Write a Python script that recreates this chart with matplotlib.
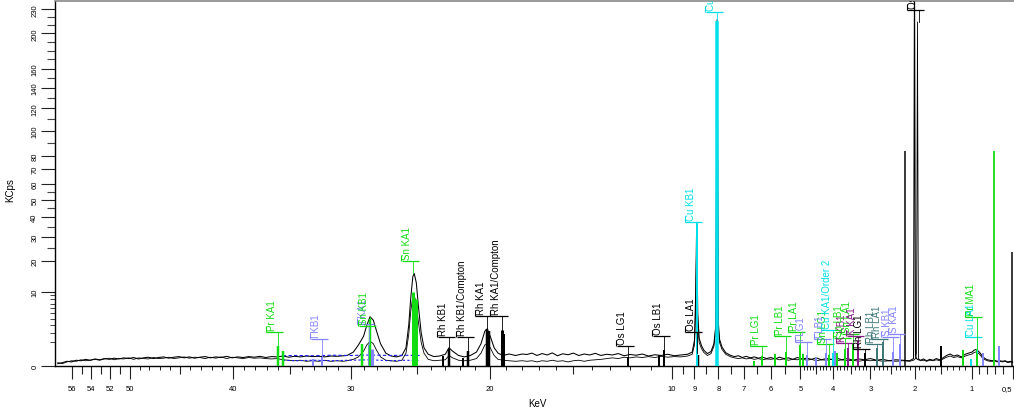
import numpy as np
import matplotlib
matplotlib.use('Agg')
import matplotlib.pyplot as plt
from matplotlib.transforms import offset_copy

plt.rcParams['font.family'] = ['Liberation Sans', 'DejaVu Sans']

# ---------------- data: spectra (keV, KCps) ----------------
energy_a = [57.6, 57.1, 56.6, 56.1, 55.6, 55.1, 54.6, 54.1, 53.6, 53.1,
            52.6, 52.1, 51.6, 51.1, 50.6, 50.1, 49.6, 49.1, 48.6, 48.1,
            47.6, 47.1, 46.6, 46.1, 45.6, 45.1, 44.6, 44.1, 43.6, 43.1,
            42.6, 42.1, 41.6, 41.1, 40.6, 40.1, 39.6, 39.1, 38.6, 38.1,
            37.6, 37.1, 36.6, 36.1, 35.6, 35.1, 34.6, 34.1, 33.6, 33.1,
            32.6, 32.1, 31.6, 31.1, 30.6]
spec1_a = [0.01, 0.02, 0.04, 0.03, 0.06, 0.05, 0.08, 0.06, 0.09, 0.07,
           0.10, 0.08, 0.11, 0.09, 0.12, 0.10, 0.13, 0.09, 0.12, 0.14,
           0.10, 0.13, 0.15, 0.11, 0.14, 0.16, 0.12, 0.15, 0.11, 0.14,
           0.16, 0.12, 0.15, 0.13, 0.17, 0.12, 0.15, 0.13, 0.16, 0.14,
           0.17, 0.13, 0.16, 0.15, 0.18, 0.14, 0.17, 0.15, 0.18, 0.16,
           0.17, 0.15, 0.18, 0.17, 0.19]
spec2_a = [0.02, 0.01, 0.03, 0.05, 0.04, 0.07, 0.05, 0.06, 0.08, 0.06,
           0.09, 0.11, 0.07, 0.10, 0.09, 0.12, 0.08, 0.12, 0.10, 0.09,
           0.13, 0.10, 0.11, 0.14, 0.10, 0.12, 0.15, 0.11, 0.14, 0.13,
           0.10, 0.14, 0.11, 0.15, 0.10, 0.14, 0.12, 0.10, 0.13, 0.11,
           0.12, 0.10, 0.09, 0.10, 0.07, 0.06, 0.05, 0.06, 0.04, 0.05,
           0.04, 0.06, 0.04, 0.05, 0.04]

energy_b = [30.3, 29.8, 29.4, 29.0, 28.75, 28.5, 28.25, 28.0, 27.7,
            27.3, 26.9, 26.5, 26.1, 25.8, 25.6, 25.45, 25.3, 25.2, 25.05,
            24.9, 24.7, 24.5, 24.2, 23.8, 23.4, 23.0, 22.75, 22.5, 22.1,
            21.7, 21.3, 20.9, 20.6, 20.35, 20.2, 20.0, 19.75, 19.5, 19.2,
            18.8, 18.4, 18.0]
spec1_b = [0.20, 0.35, 0.8, 1.6, 3.0, 4.4, 3.8, 2.2, 0.9,
           0.30, 0.18, 0.15, 0.20, 0.6, 3.0, 8.5, 14.5, 15.5, 12.5,
           6.5, 2.0, 0.6, 0.25, 0.16, 0.18, 0.25, 0.6, 0.4, 0.20,
           0.15, 0.20, 0.35, 0.9, 2.2, 2.5, 1.6, 0.6, 0.30, 0.20,
           0.26, 0.20, 0.26]
spec2_b = [0.05, 0.08, 0.15, 0.4, 0.8, 1.1, 0.9, 0.45, 0.15,
           0.06, 0.05, 0.04, 0.06, 0.3, 1.8, 5.5, 8.8, 9.0, 7.0,
           3.5, 1.0, 0.3, 0.08, 0.05, 0.06, 0.07, 0.20, 0.12, 0.06,
           0.05, 0.06, 0.10, 0.30, 0.8, 0.9, 0.6, 0.20, 0.08, 0.06,
           0.05, 0.04, 0.05]

energy_c = [17.7, 17.4, 17.1, 16.8, 16.5, 16.2, 15.9, 15.6, 15.3, 15.0,
            14.7, 14.4, 14.1, 13.8, 13.5, 13.2, 12.9, 12.6, 12.3, 12.0,
            11.7, 11.4, 11.1, 10.8, 10.5, 10.2, 9.9, 9.6, 9.3]
spec1_c = [0.24, 0.30, 0.20, 0.28, 0.22, 0.31, 0.19, 0.27, 0.23, 0.30,
           0.20, 0.26, 0.22, 0.29, 0.20, 0.25, 0.22, 0.28, 0.19, 0.24,
           0.21, 0.26, 0.18, 0.23, 0.20, 0.25, 0.19, 0.22, 0.25]
spec2_c = [0.04, 0.05, 0.03, 0.05, 0.04, 0.06, 0.04, 0.05, 0.03, 0.05,
           0.06, 0.04, 0.06, 0.07, 0.08, 0.10, 0.12, 0.10, 0.14, 0.12,
           0.15, 0.13, 0.16, 0.13, 0.17, 0.14, 0.16, 0.15, 0.18]

energy_cu = [9.1, 9.0, 8.95, 8.905, 8.86, 8.8, 8.7, 8.6, 8.45, 8.3, 8.18, 8.1, 8.048,
             8.0, 7.95, 7.85, 7.7]
spec1_cu = [0.35, 1.2, 9.0, 37.0, 5.0, 1.4, 0.75, 0.45, 0.28, 0.38, 0.9, 3.0, 217.0,
            3.5, 1.3, 0.65, 0.32]
spec2_cu = [0.25, 0.8, 6.0, 30.0, 3.5, 1.0, 0.55, 0.33, 0.20, 0.28, 0.7, 2.5, 200.0,
            2.8, 1.0, 0.5, 0.25]

energy_d = [7.5, 7.35, 7.2, 7.05, 6.9, 6.75, 6.6, 6.45, 6.3, 6.15,
            6.0, 5.85, 5.7, 5.55, 5.4, 5.25, 5.1, 4.95, 4.8, 4.65,
            4.5, 4.35, 4.2, 4.05, 3.9, 3.75, 3.6, 3.45, 3.3, 3.15,
            3.0, 2.85, 2.7, 2.55, 2.4, 2.25]
spec1_d = [0.20, 0.16, 0.19, 0.13, 0.17, 0.12, 0.15, 0.11, 0.14, 0.10,
           0.13, 0.09, 0.14, 0.10, 0.12, 0.08, 0.13, 0.09, 0.11, 0.08,
           0.12, 0.07, 0.10, 0.08, 0.11, 0.07, 0.10, 0.06, 0.09, 0.07,
           0.10, 0.06, 0.08, 0.05, 0.07, 0.06]
spec2_d = [0.15, 0.12, 0.10, 0.12, 0.09, 0.11, 0.08, 0.10, 0.07, 0.09,
           0.08, 0.10, 0.07, 0.09, 0.06, 0.08, 0.07, 0.09, 0.06, 0.08,
           0.05, 0.07, 0.06, 0.08, 0.05, 0.07, 0.05, 0.06, 0.04, 0.06,
           0.05, 0.06, 0.04, 0.05, 0.04, 0.05]

energy_m = [2.1, 2.02, 2.0, 1.98, 1.96, 1.94, 1.92]
spec1_m = [0.05, 0.10, 300.0, 0.20, 0.10, 0.08, 0.07]
spec2_m = [0.04, 0.06, 0.08, 0.10, 0.30, 214.0, 0.10]

energy_e = [1.88, 1.82, 1.76, 1.70, 1.64, 1.58, 1.52, 1.46, 1.40, 1.34,
            1.28, 1.22, 1.16, 1.10, 1.05, 1.00, 0.97, 0.94, 0.91, 0.88,
            0.85, 0.82, 0.79, 0.76, 0.73, 0.70, 0.67, 0.64, 0.61, 0.58,
            0.55, 0.52, 0.50]
spec1_e = [0.06, 0.09, 0.05, 0.08, 0.06, 0.10, 0.07, 0.12, 0.20, 0.26,
           0.18, 0.22, 0.15, 0.25, 0.30, 0.35, 0.45, 0.50, 0.40, 0.28,
           0.15, 0.10, 0.07, 0.06, 0.05, 0.06, 0.04, 0.05, 0.04, 0.05,
           0.03, 0.04, 0.03]
spec2_e = [0.05, 0.06, 0.04, 0.06, 0.05, 0.07, 0.05, 0.09, 0.14, 0.18,
           0.13, 0.16, 0.12, 0.18, 0.22, 0.26, 0.33, 0.36, 0.30, 0.20,
           0.10, 0.07, 0.05, 0.04, 0.04, 0.05, 0.03, 0.04, 0.03, 0.04,
           0.02, 0.03, 0.02]

fit_energy = [35.6, 34.5, 33.0, 31.5, 30.0, 28.5, 27.0, 25.8, 24.8]
fit_high = [0.19, 0.20, 0.19, 0.21, 0.20, 0.22, 0.20, 0.21, 0.20]
fit_low = [0.06, 0.05, 0.06, 0.05, 0.06, 0.07, 0.05, 0.06, 0.05]

# element line markers
marker_energy = [36.03, 35.55, 33.04, 32.29, 29.11, 28.61, 28.49, 28.32, 25.27, 25.04,
                 23.17, 22.72, 21.8, 21.45, 20.22, 20.07, 19.24, 19.1, 12.10, 10.60, 10.36,
                 8.84, 8.905, 8.048, 6.60, 6.32, 5.85, 5.49, 5.03, 4.93, 4.80, 4.50, 4.22,
                 4.13, 4.02, 3.94, 3.90, 3.66, 3.59, 3.44, 3.31, 3.14, 2.83, 2.70, 2.46, 2.31,
                 2.20, 1.50, 1.13, 1.02, 0.93, 0.929, 0.85, 0.708, 0.65, 0.51]
marker_height = [0.75, 0.42, 0.08, 0.15, 0.9, 0.9, 4.0, 0.55, 9.9, 8.1,
                 0.18, 0.55, 0.12, 0.42, 2.5, 2.2, 2.4, 1.8, 0.15, 0.2, 0.46,
                 0.2, 37.0, 215.0, 0.05, 0.18, 0.25, 0.35, 0.8, 0.25, 0.2, 0.15, 0.3,
                 0.2, 0.3, 0.4, 0.3, 0.5, 0.6, 0.9, 1.1, 0.3, 0.6, 1.0, 0.35, 0.9,
                 83.7, 0.72, 0.46, 0.08, 0.25, 0.55, 0.3, 83.7, 0.72, 23.5]
marker_color = ['g', 'g', 'p', 'p', 'g', 'p', 'g', 'p', 'g', 'g',
                'k', 'k', 'k', 'k', 'k', 'k', 'k', 'k', 'k', 'k', 'k',
                'k', 'c', 'c', 'g', 'g', 'g', 'g', 'g', 'g', 'p', 'p', 'p',
                'g', 'c', 'p', 'g', 'g', 'm', 'g', 'm', 'k', 't', 't', 'p', 'p',
                'k', 'k', 'g', 'c', 'c', 'g', 'p', 'g', 'p', 'k']
marker_width = [2.5, 2.5, 2, 2, 2.5, 3, 2.5, 3, 3, 3,
                2, 2.5, 2, 2.5, 2.5, 2.5, 3, 2, 2, 2, 2,
                2.5, 2, 3.5, 2, 2, 2, 2, 2, 2, 2, 2, 2,
                2, 2, 2, 2, 2, 2, 2, 2, 2, 2, 2, 2, 2,
                1.5, 2, 2, 2, 2, 2, 2, 1.8, 2, 1.5]

label_text = ["Pr KA1", "I KB1", "I KA1", "Sn KB1", "Sn KA1", "Rh KB1", "Rh KB1/Compton",
              "Rh KA1", "Rh KA1/Compton", "Os LG1", "Os LB1", "Os LA1", "Cu KB1", "Cu KA1",
              "Pr LG1", "Pr LB1", "Pr LA1", "I LG1", "Sn LG1", "I LB1", "Cu KA1/Order 2",
              "K KB1", "Sn LB1", "Sn LA1", "K KA1", "Rh LG1", "Rh LB1", "Rh LA1", "S KB1",
              "S KA1", "Os MA1", "Cu LA1", "Pr MA1"]
label_energy = [36.03, 32.29, 28.61, 28.49, 25.27, 22.72, 21.45, 20.22, 19.24, 12.10, 10.36,
                8.91, 8.905, 8.048, 6.32, 5.49, 5.03, 4.80, 4.13, 4.22, 4.02, 3.59, 3.66, 3.44,
                3.31, 3.14, 2.83, 2.70, 2.46, 2.31, 1.914, 0.93, 0.929]
label_bar = [2.09, 1.32, 3.2, 2.9, 20.0, 1.52, 1.52, 4.53, 4.53, 0.72, 1.63, 2.09, 37.5, 227.0,
             0.72, 1.63, 2.09, 1.0, 0.9, 1.3, 2.35, 0.95, 1.4, 1.9, 1.6, 0.55, 0.9, 1.3, 1.5,
             1.9, 229.0, 1.52, 4.35]
label_peak = [0.75, 0.15, 0.9, 4.4, 15.5, 0.6, 0.42, 2.5, 2.4, 0.15, 0.46, 0.3, 37.0, 217.0,
              0.18, 0.35, 0.8, 0.2, 0.2, 0.3, 0.3, 0.6, 0.5, 0.9, 1.1, 0.3, 0.6, 1.0, 0.35,
              0.9, 214.0, 0.3, 0.5]
label_color = ['g', 'p', 'p', 'g', 'g', 'k', 'k', 'k', 'k', 'k', 'k', 'k', 'c', 'c',
               'g', 'g', 'g', 'p', 'g', 'p', 'c', 'm', 'g', 'g', 'm', 'k', 't', 't', 'p',
               'p', 'k', 'c', 'g']

x_major = [56, 54, 52, 50, 40, 30, 20, 10, 9, 8, 7, 6, 5, 4, 3, 2, 1, 0.5]
x_major_labels = ['56', '54', '52', '50', '40', '30', '20', '10', '9', '8', '7', '6', '5',
                  '4', '3', '2', '1', '0,5']
x_medium = [55, 53, 51, 45, 35, 25, 15, 9.5, 8.5, 7.5, 6.5, 5.5, 4.5, 3.5, 2.5, 1.5,
            0.9, 0.8, 0.7, 0.6]
x_small = ([e for e in range(11, 50) if e not in (15, 20, 25, 30, 35, 40, 45)] +
           [round(a + b / 10, 1) for a in (1, 2, 3, 4) for b in range(1, 10) if b != 5])
y_major = [0, 10, 20, 30, 40, 50, 60, 70, 80, 100, 120, 140, 160, 200, 230]
y_medium = [25, 35, 45, 55, 90, 110, 130, 150, 170, 180, 190, 210, 220]
y_small = [1, 2, 3, 4, 5, 6, 7, 8, 9]

palette = {'g': '#12dc12', 'p': '#8585ff', 'c': '#00e0ea', 'k': '#000000',
           'm': '#8a1a8a', 't': '#3e7878'}

energy = energy_a + energy_b + energy_c + energy_cu + energy_d + energy_m + energy_e
spectrum_1 = spec1_a + spec1_b + spec1_c + spec1_cu + spec1_d + spec1_m + spec1_e
spectrum_2 = spec2_a + spec2_b + spec2_c + spec2_cu + spec2_d + spec2_m + spec2_e

# ---------------- figure ----------------
W, H = 1014, 414
fig = plt.figure(figsize=(W / 100, H / 100), dpi=100)
rect = [55 / W, 47 / H, (W - 55) / W, 365 / H]


def fwd(v):
    return np.sqrt(np.clip(v, 0, None))


def inv(v):
    return np.square(v)


ax3 = fig.add_axes(rect, frameon=False)
ax = fig.add_axes(rect)
ax.patch.set_alpha(0)
for a in (ax, ax3):
    a.set_xscale('function', functions=(fwd, inv))
    a.set_yscale('function', functions=(fwd, inv))
    a.set_xlim(57.9, 0.486)
    a.set_ylim(0, 241)

# spectra
ax.plot(energy, spectrum_2, color='black', lw=0.6, zorder=2)
ax.plot(energy, spectrum_1, color='black', lw=0.75, zorder=2)
ax.plot(fit_energy, fit_high, color='#1a1aff', lw=0.8, dashes=(3, 2), zorder=2)
ax.plot(fit_energy, fit_low, color='#1a1aff', lw=0.8, dashes=(2, 2), zorder=2)

# marker lines
ax.vlines(marker_energy, 0, marker_height, colors=[palette[c] for c in marker_color],
          linewidths=[w * 0.72 for w in marker_width], zorder=3)

# labels
for txt, e, bar, pk, c in zip(label_text, label_energy, label_bar, label_peak, label_color):
    col = palette[c]
    ax.plot([e, e], [pk, bar], color=col, lw=0.6, zorder=4)
    tb = offset_copy(ax.transData, fig=fig, x=-3.5, y=0, units='dots')
    ax.plot([e], [bar], marker='_', ms=17 * 0.72, mew=0.9, color=col, transform=tb, zorder=4)
    tt = offset_copy(ax.transData, fig=fig, x=-12, y=3, units='dots')
    ax.plot([e], [bar], marker='|', ms=6 * 0.72, mew=0.8, color=col, transform=tt, zorder=4)
    tx = offset_copy(ax.transData, fig=fig, x=-6, y=2, units='dots')
    ax.text(e, bar, txt, rotation=90, ha='center', va='bottom', fontsize=7, color=col,
            transform=tx, clip_on=True, zorder=5)

# ticks
ax.set_xticks(x_major)
ax.set_xticklabels(x_major_labels)
ax.get_xticklabels()[-1].set_horizontalalignment('right')
ax.set_xticks(x_medium, minor=True)
ax.set_yticks(y_major)
ax.set_yticklabels([str(v) for v in y_major], rotation=90, va='center')
ax.set_yticks(y_medium, minor=True)
ax.yaxis.set_minor_formatter(plt.NullFormatter())
ax.xaxis.set_minor_formatter(plt.NullFormatter())
ax.tick_params(axis='x', which='major', length=9.5, width=0.8, pad=4, labelsize=5.5,
               color='#222222')
ax.tick_params(axis='x', which='minor', length=6, width=0.8, color='#222222')
ax.tick_params(axis='y', which='major', length=10, width=0.8, pad=2, labelsize=5.5,
               color='#222222')
ax.tick_params(axis='y', which='minor', length=5.8, width=0.8, color='#444444')

ax3.set_xticks(x_small)
ax3.set_yticks(y_small)
ax3.set_xticklabels([])
ax3.set_yticklabels([])
ax3.tick_params(axis='x', length=3, width=0.7, color='#222222')
ax3.tick_params(axis='y', length=3.6, width=0.7, color='#444444')

ax.spines['right'].set_visible(False)
ax.spines['top'].set_color('#888888')
ax.spines['top'].set_linewidth(1.2)
ax.spines['left'].set_linewidth(1.0)
ax.spines['bottom'].set_linewidth(1.0)

ax.set_xlabel('KeV', fontsize=7)
ax.set_ylabel('KCps', fontsize=7)
ax.xaxis.set_label_coords((537 - 55) / 959, (367 - 399) / 365)
ax.yaxis.set_label_coords((15 - 55) / 959, (367 - 190) / 365)

fig.savefig('out.png', dpi=100)
